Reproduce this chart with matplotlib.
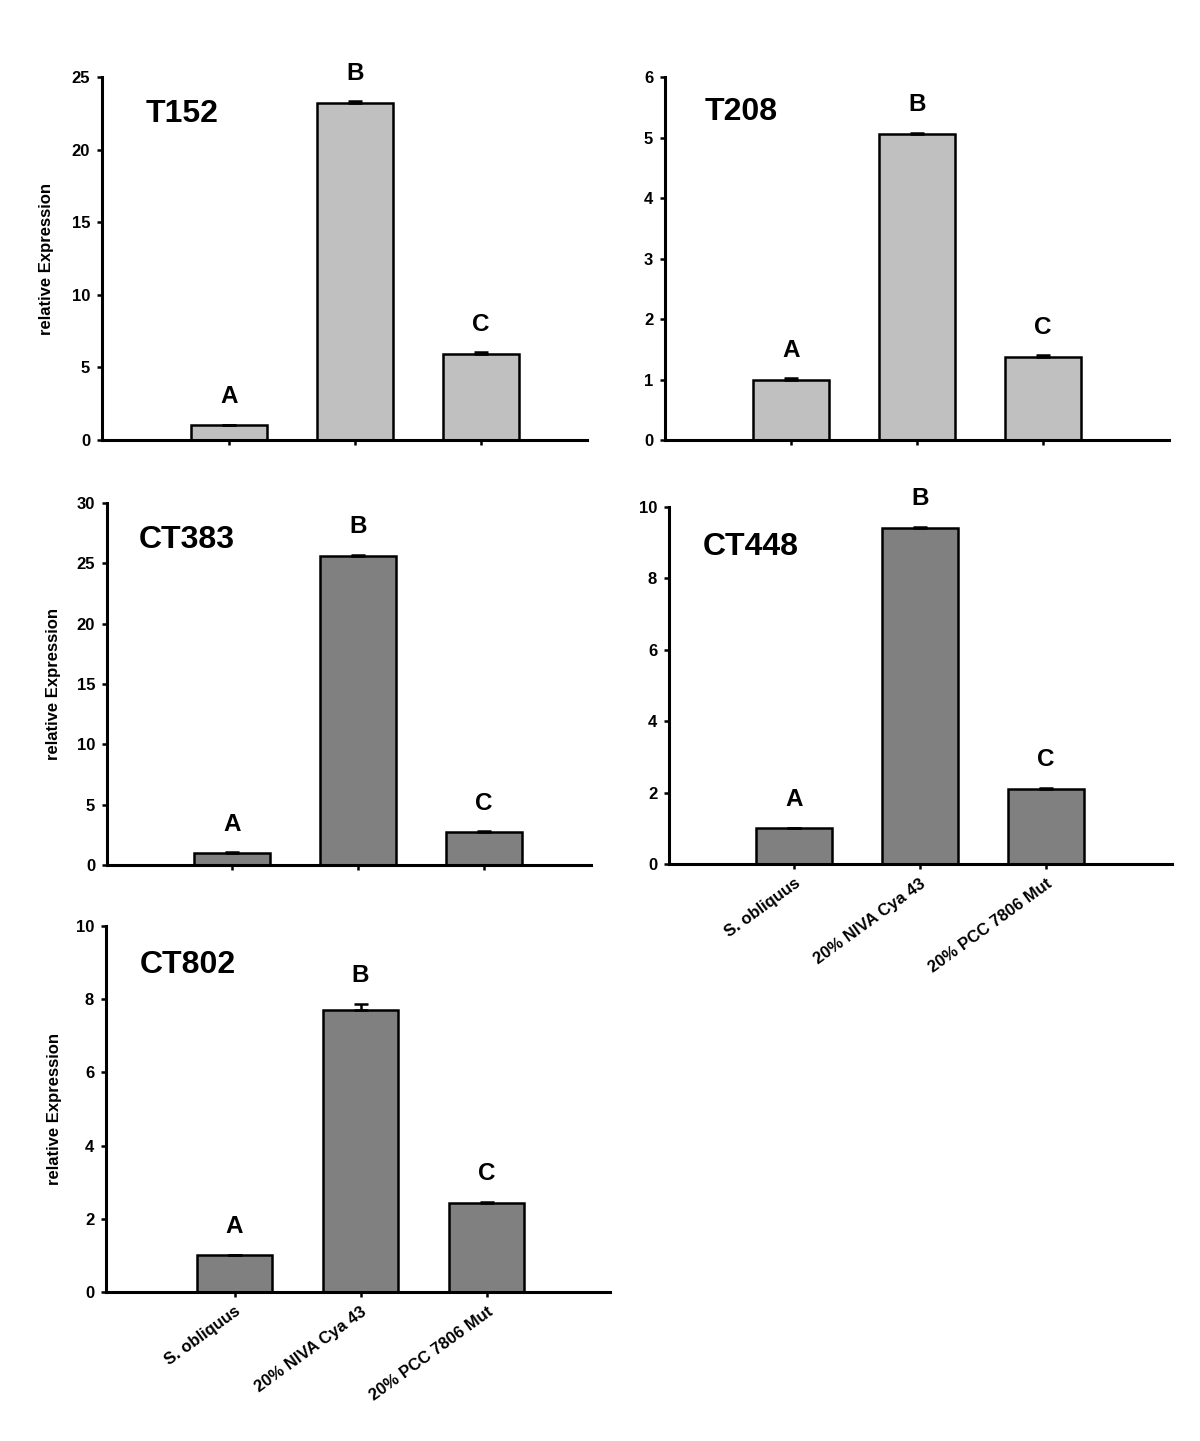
import numpy as np
import matplotlib
matplotlib.use('Agg')
import matplotlib.pyplot as plt

plt.rcParams['font.family'] = ['Liberation Sans', 'DejaVu Sans']
plt.rcParams['font.weight'] = 'bold'

# data
categories = ['S. obliquus', '20% NIVA Cya 43', '20% PCC 7806 Mut']
letters = ['A', 'B', 'C']

genes = ['T152', 'T208', 'CT383', 'CT448', 'CT802']
t152 = [1.0, 23.2, 5.95]
t152_err = [0.05, 0.12, 0.08]
t208 = [1.0, 5.05, 1.38]
t208_err = [0.02, 0.03, 0.02]
ct383 = [1.0, 25.6, 2.75]
ct383_err = [0.05, 0.08, 0.05]
ct448 = [1.0, 9.4, 2.1]
ct448_err = [0.02, 0.04, 0.03]
ct802 = [1.0, 7.7, 2.42]
ct802_err = [0.02, 0.18, 0.04]

values = [t152, t208, ct383, ct448, ct802]
errors = [t152_err, t208_err, ct383_err, ct448_err, ct802_err]
ymax = [25, 6, 30, 10, 10]
ystep = [5, 1, 5, 2, 2]
colors = ['#c0c0c0', '#c0c0c0', '#808080', '#808080', '#808080']

W, H = 1200, 1441
fig = plt.figure(figsize=(W / 100, H / 100), dpi=100)


def px_axes(left, right, top, bottom):
    return fig.add_axes([left / W, 1 - bottom / H, (right - left) / W, (bottom - top) / H])


# pixel boxes (left, right, top, bottom) and x limits
boxes = [(102, 587, 77, 440), (665, 1169, 77, 440), (107, 591, 503, 865),
         (669, 1172, 507, 864), (106, 610, 926, 1292)]
xlims = [(-1.01, 2.84), (-1.0, 3.0), (-0.99, 2.85), (-0.99, 3.0), (-1.02, 2.98)]
title_pos = [(0.09, 0.898), (0.079, 0.903), (0.066, 0.898), (0.068, 0.888), (0.066, 0.893)]
ylabel_x = [-0.099, None, -0.095, None, -0.087]
show_xlabels = [False, False, False, True, True]

x = np.arange(len(categories))

for i, gene in enumerate(genes):
    ax = px_axes(*boxes[i])
    vals = values[i]
    errs = errors[i]
    ax.bar(x, vals, width=0.6, color=colors[i], edgecolor='black', linewidth=1.8, zorder=2)
    ax.errorbar(x, vals, yerr=[np.zeros(3), errs], fmt='none', ecolor='black',
                elinewidth=1.8, capsize=5, capthick=1.8, zorder=3)
    for xi, v, e, lt in zip(x, vals, errs, letters):
        ax.annotate(lt, (xi, v + e), xytext=(0, 12), textcoords='offset points',
                    ha='center', va='bottom', fontsize=17.5, fontweight='bold')
    ax.set_xlim(*xlims[i])
    ax.set_ylim(0, ymax[i])
    ax.set_yticks(np.arange(0, ymax[i] + 0.01, ystep[i]))
    ax.set_xticks(x)
    if show_xlabels[i]:
        ax.set_xticklabels(categories, rotation=36, ha='right', va='top',
                           rotation_mode='anchor', fontsize=11.5, fontweight='bold')
    else:
        ax.set_xticklabels([])
    for s in ['top', 'right']:
        ax.spines[s].set_visible(False)
    for s in ['left', 'bottom']:
        ax.spines[s].set_linewidth(2.2)
    ax.tick_params(axis='both', direction='out', length=3.5, width=1.8, labelsize=12, pad=5)
    for lab in ax.get_yticklabels():
        lab.set_fontweight('bold')
    ax.text(title_pos[i][0], title_pos[i][1], gene, transform=ax.transAxes,
            ha='left', va='center', fontsize=23, fontweight='bold')
    if ylabel_x[i] is not None:
        ax.set_ylabel('relative Expression', fontsize=12, fontweight='bold')
        ax.yaxis.set_label_coords(ylabel_x[i], 0.5)

fig.savefig('out.png', dpi=100)
